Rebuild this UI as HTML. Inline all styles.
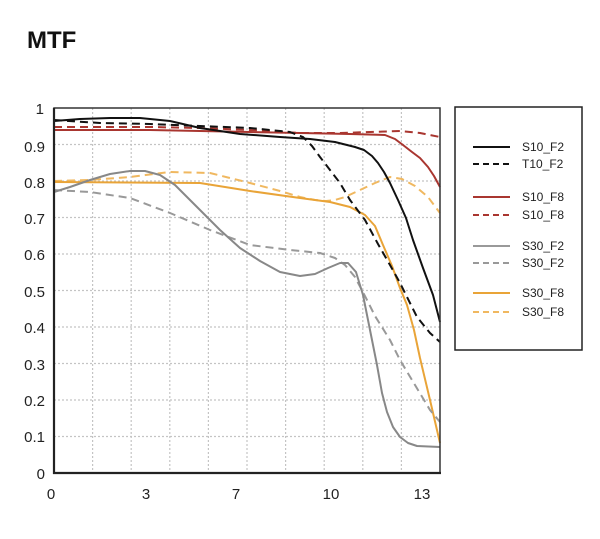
<!DOCTYPE html>
<html><head><meta charset="utf-8"><style>
html,body{margin:0;padding:0;background:#fff;}
svg{display:block;}
text{font-family:"Liberation Sans",sans-serif;}
</style></head><body>
<svg width="600" height="539" viewBox="0 0 600 539" xmlns="http://www.w3.org/2000/svg">
<text x="27" y="48" font-size="24" font-weight="bold" fill="#111">MTF</text>
<g stroke="#c4c4c4" stroke-width="1.2" stroke-dasharray="2,2" fill="none">
<line x1="54" y1="436.5" x2="440" y2="436.5"/><line x1="54" y1="400" x2="440" y2="400"/>
<line x1="54" y1="363.5" x2="440" y2="363.5"/><line x1="54" y1="327" x2="440" y2="327"/>
<line x1="54" y1="290.5" x2="440" y2="290.5"/><line x1="54" y1="254" x2="440" y2="254"/>
<line x1="54" y1="217.5" x2="440" y2="217.5"/><line x1="54" y1="181" x2="440" y2="181"/>
<line x1="54" y1="144.5" x2="440" y2="144.5"/>
<line x1="92.6" y1="108" x2="92.6" y2="473"/><line x1="131.2" y1="108" x2="131.2" y2="473"/>
<line x1="169.8" y1="108" x2="169.8" y2="473"/><line x1="208.4" y1="108" x2="208.4" y2="473"/>
<line x1="247" y1="108" x2="247" y2="473"/><line x1="285.6" y1="108" x2="285.6" y2="473"/>
<line x1="324.2" y1="108" x2="324.2" y2="473"/><line x1="362.8" y1="108" x2="362.8" y2="473"/>
<line x1="401.4" y1="108" x2="401.4" y2="473"/>
</g>
<g fill="none" stroke-width="2" stroke-linejoin="round" stroke-linecap="butt">
<polyline stroke="#f0b860" stroke-dasharray="8,5" points="54,181 90,180 130,177 170,172 210,173 250,183 280,191 300,197 315,200 326,201 335,200 345,197 360,190 375,183 390,177 402,179 415,186 428,197 440,213"/>
<polyline stroke="#e9a438" points="54,182 200,183 250,191 300,198 330,202 350,207 365,215 375,226 383,245 392,266 400,288 407,305 414,330 420,358 430,400 440,443"/>
<polyline stroke="#999" stroke-dasharray="8,5" points="54,190 90,192 130,198 170,213 210,230 250,245 290,250 320,253 335,258 345,265 355,277 367,300 375,316 390,340 400,360 415,385 430,410 440,422"/>
<polyline stroke="#888" points="54,192 70,187 90,180 110,174 130,171 145,171 160,175 175,185 190,200 205,215 220,230 240,248 260,261 280,272 300,276 315,274 328,268 340,263 348,263 356,272 363,295 370,330 377,365 382,393 387,412 393,427 400,437 408,443 417,446 440,447"/>
<polyline stroke="#a93630" stroke-dasharray="8,5" points="54,127 150,127 200,128 250,130 300,133 340,133 370,132 400,131 420,133 440,137"/>
<polyline stroke="#a93630" points="54,130 150,130 250,132 300,133 350,134 385,135 395,139 403,145 412,152 420,158 428,167 434,176 440,187"/>
<polyline stroke="#111" stroke-dasharray="8,5" points="54,120 100,123 150,124 200,126 250,128 290,132 303,137 312,146 320,157 330,170 340,183 350,200 365,220 378,244 390,265 400,283 417,317 430,333 440,342"/>
<polyline stroke="#111" points="54,121 80,119 110,118 140,118 170,121 200,128 240,134 280,137 310,139 335,142 355,147 364,150 372,156 378,163 384,172 390,183 398,200 406,218 413,240 423,268 433,295 440,322"/>
</g>
<rect x="54" y="108" width="386" height="365" fill="none" stroke="#333" stroke-width="1.5"/>
<line x1="54" y1="108" x2="54" y2="474" stroke="#222" stroke-width="2.2"/>
<line x1="53" y1="473" x2="441" y2="473" stroke="#222" stroke-width="2.2"/>
<g font-size="15" fill="#222" text-anchor="end">
<text x="44" y="114">1</text><text x="45" y="152">0.9</text><text x="45" y="188">0.8</text>
<text x="45" y="224">0.7</text><text x="45" y="260">0.6</text><text x="45" y="297">0.5</text>
<text x="45" y="333">0.4</text><text x="45" y="370">0.3</text><text x="45" y="406">0.2</text>
<text x="45" y="442">0.1</text><text x="45" y="479">0</text>
</g>
<g font-size="15" fill="#222" text-anchor="middle">
<text x="51" y="499">0</text><text x="146" y="499">3</text><text x="236" y="499">7</text>
<text x="331" y="499">10</text><text x="422" y="499">13</text>
</g>
<rect x="455" y="107" width="127" height="243" fill="none" stroke="#222" stroke-width="1.5"/>
<g stroke-width="2" fill="none">
<line x1="473" y1="147" x2="510" y2="147" stroke="#111"/>
<line x1="473" y1="164" x2="510" y2="164" stroke="#111" stroke-dasharray="6,4"/>
<line x1="473" y1="197" x2="510" y2="197" stroke="#a93630"/>
<line x1="473" y1="215" x2="510" y2="215" stroke="#a93630" stroke-dasharray="6,4"/>
<line x1="473" y1="246" x2="510" y2="246" stroke="#999"/>
<line x1="473" y1="263" x2="510" y2="263" stroke="#999" stroke-dasharray="6,4"/>
<line x1="473" y1="293" x2="510" y2="293" stroke="#e9a438"/>
<line x1="473" y1="312" x2="510" y2="312" stroke="#f0b860" stroke-dasharray="6,4"/>
</g>
<g font-size="12" fill="#222">
<text x="522" y="151">S10_F2</text><text x="522" y="168">T10_F2</text>
<text x="522" y="201">S10_F8</text><text x="522" y="219">S10_F8</text>
<text x="522" y="250">S30_F2</text><text x="522" y="267">S30_F2</text>
<text x="522" y="297">S30_F8</text><text x="522" y="316">S30_F8</text>
</g>
</svg>
</body></html>
